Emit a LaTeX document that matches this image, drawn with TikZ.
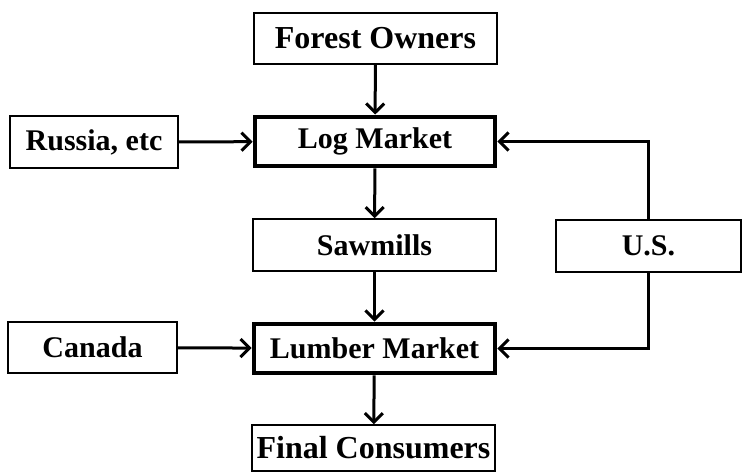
\documentclass[tikz,border=0pt]{standalone}
\usepackage{fontspec}
\setmainfont{Liberation Serif}
\usetikzlibrary{arrows.meta}
\begin{document}
\begin{tikzpicture}[x=1pt,y=-1pt,
  box/.style={draw,line width=1.5pt,inner sep=0pt,font=\fontsize{30}{32}\selectfont\bfseries},
  bigbox/.style={box,font=\fontsize{32}{34}\selectfont\bfseries},
  mktbox/.style={box,line width=4.8pt},
  conn/.style={line width=3pt,-{Straight Barb[length=9pt,width=18pt,line width=3pt]}}]
\useasboundingbox (0,0) rectangle (743,473);
\node[bigbox,minimum width=243pt,minimum height=51pt] (forest) at (375.5,38.5) {Forest Owners};
\node[mktbox,minimum width=240pt,minimum height=49pt] (log) at (375,141.5) {Log Market};
\node[box,minimum width=168pt,minimum height=52pt] (russia) at (94,142) {Russia, etc};
\node[box,minimum width=243pt,minimum height=52pt] (saw) at (374.5,245) {Sawmills};
\node[box,minimum width=185pt,minimum height=52pt] (us) at (648.5,246) {U.S.};
\node[mktbox,minimum width=241pt,minimum height=49pt] (lumber) at (374.5,348.5) {Lumber Market};
\node[box,minimum width=169pt,minimum height=51pt] (canada) at (92.5,347.5) {Canada};
\node[bigbox,minimum width=243pt,minimum height=46pt] (final) at (373.5,448) {Final Consumers};
\draw[conn] (forest) -- (log);
\draw[conn] (log) -- (saw);
\draw[conn] (saw) -- (lumber);
\draw[conn] (lumber) -- (final);
\draw[conn] (russia) -- (log);
\draw[conn] (canada) -- (lumber);
\draw[conn] (us.north) |- (log.east);
\draw[conn] (us.south) |- (lumber.east);
\end{tikzpicture}
\end{document}
